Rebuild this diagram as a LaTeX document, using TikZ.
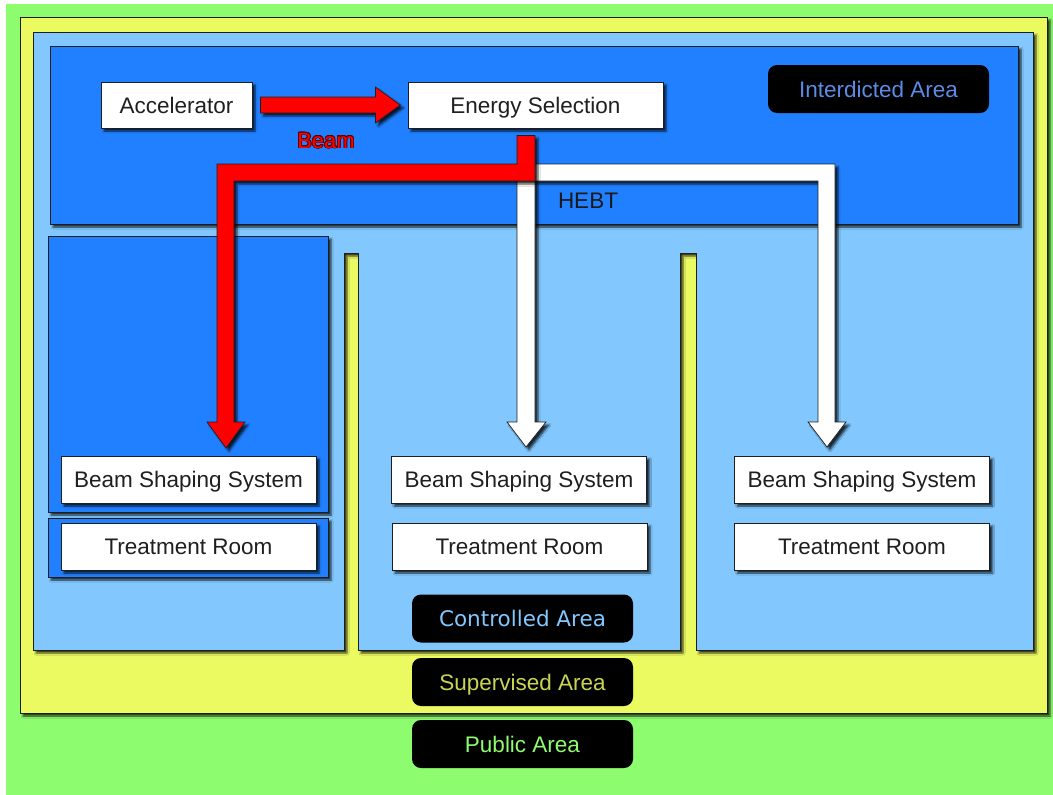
\documentclass[tikz,border=0pt]{standalone}
\usepackage{fontspec}
\setmainfont{Liberation Sans}
\newfontfamily\dejavu{DejaVu Sans}
\usepackage{contour}
\contourlength{0.8pt}
\usetikzlibrary{shadows.blur,calc}
\definecolor{pubgreen}{RGB}{141,252,110}
\definecolor{supyellow}{RGB}{236,250,98}
\definecolor{ctrlblue}{RGB}{130,200,255}
\definecolor{intblue}{RGB}{32,128,255}
\definecolor{intlabel}{RGB}{90,140,230}
\definecolor{edge}{RGB}{30,30,30}
\definecolor{beamedge}{RGB}{90,0,0}
\begin{document}
\begin{tikzpicture}[x=1pt,y=-1pt,
  sh/.style={blur shadow={shadow xshift=3pt,shadow yshift=-3pt,shadow blur steps=4,shadow opacity=80,shadow blur radius=2pt}},
  zone/.style={draw=edge,line width=0.8pt,sh},
  wbox/.style={draw=edge,line width=0.8pt,fill=white,minimum width=255pt,minimum height=47pt,inner sep=0pt,text height=16pt,text depth=0pt,font=\fontsize{22.5}{27}\selectfont,text=black!88,sh},
  tag/.style={fill=black,rounded corners=9pt,minimum width=221pt,minimum height=48pt,inner sep=0pt,text height=16pt,text depth=0pt,font=\fontsize{22.5}{27}\selectfont},
  beamarrow/.style={draw=edge,line width=0.7pt,line join=miter,sh}
]
\useasboundingbox (0,0) rectangle (1053,795);
% zones
\fill[pubgreen] (6,4) rectangle (1053,795);
\path[zone,fill=supyellow] (20,17) rectangle (1047,713);
\path[zone,fill=ctrlblue] (33,32) -- (1033,32) -- (1033,650) -- (696,650) -- (696,253) -- (680,253) -- (680,650)
  -- (358,650) -- (358,253) -- (344,253) -- (344,650) -- (33,650) -- cycle;
\path[zone,fill=intblue] (50,46) rectangle (1018,224);
\path[zone,fill=intblue] (48,236) rectangle (328,512);
\path[zone,fill=intblue] (48,518) rectangle (328,577);

% nodes
\node[wbox,minimum width=151pt,minimum height=46pt] (acc) at (176.5,105) {Accelerator};
\node[wbox,minimum height=46pt] (es) at (535.5,105) {Energy Selection};
\node[font=\fontsize{22.5}{27}\selectfont,text=black!90,text height=16pt,text depth=0pt] (hebt) at (588,200) {HEBT};
\node[wbox] (bss1) at (188.5,479.5) {Beam Shaping System};
\node[wbox] (tr1) at (188.5,546.5) {Treatment Room};
\node[wbox] (bss2) at (519,479.5) {Beam Shaping System};
\node[wbox] (tr2) at (519.5,546.5) {Treatment Room};
\node[wbox] (bss3) at (862,479.5) {Beam Shaping System};
\node[wbox] (tr3) at (862,546.5) {Treatment Room};

\node[tag,text=intlabel] (lint) at (878.5,89) {Interdicted Area};
\node[tag,text=ctrlblue,font=\dejavu\fontsize{21.5}{26}\selectfont] (lctrl) at (522.5,618.5) {Controlled Area};
\node[tag,text=supyellow!85!black] (lsup) at (522.5,682) {Supervised Area};
\node[tag,text=pubgreen] (lpub) at (522.5,744) {Public Area};

% beam arrow accelerator -> energy selection
\path[beamarrow,fill=red] ($(acc.east)+(8,-8)$) -- ($(acc.east)+(123,-8)$) -- ($(acc.east)+(123,-18)$) -- ($(acc.east)+(148,0)$)
  -- ($(acc.east)+(123,18)$) -- ($(acc.east)+(123,8)$) -- ($(acc.east)+(8,8)$) -- cycle;
\node[text=red,font=\fontsize{22}{26}\selectfont] (beam) at (326,141) {\contour{beamedge}{Beam}};

% HEBT white branches
\coordinate (t2) at (526,447);
\coordinate (t3) at (827,447);
\path[beamarrow,fill=white] (517,164) -- (835,164) -- ($(t3)+(8,-25)$) -- ($(t3)+(19,-25)$) -- (t3) -- ($(t3)+(-19,-25)$)
  -- ($(t3)+(-9,-25)$) -- (818,181) -- (535,181) -- ($(t2)+(9,-25)$) -- ($(t2)+(20,-25)$) -- (t2) -- ($(t2)+(-19,-25)$)
  -- ($(t2)+(-9,-25)$) -- cycle;
% red branch
\coordinate (t1) at (226,448);
\path[beamarrow,fill=red] ($(es.south)+(-18.5,7)$) -- ($(es.south)+(-0.5,7)$) -- (535,181) -- (234,181)
  -- ($(t1)+(8,-26)$) -- ($(t1)+(19,-26)$) -- (t1) -- ($(t1)+(-19,-26)$) -- ($(t1)+(-9,-26)$) -- (217,164) -- (517,164) -- cycle;
\end{tikzpicture}
\end{document}
